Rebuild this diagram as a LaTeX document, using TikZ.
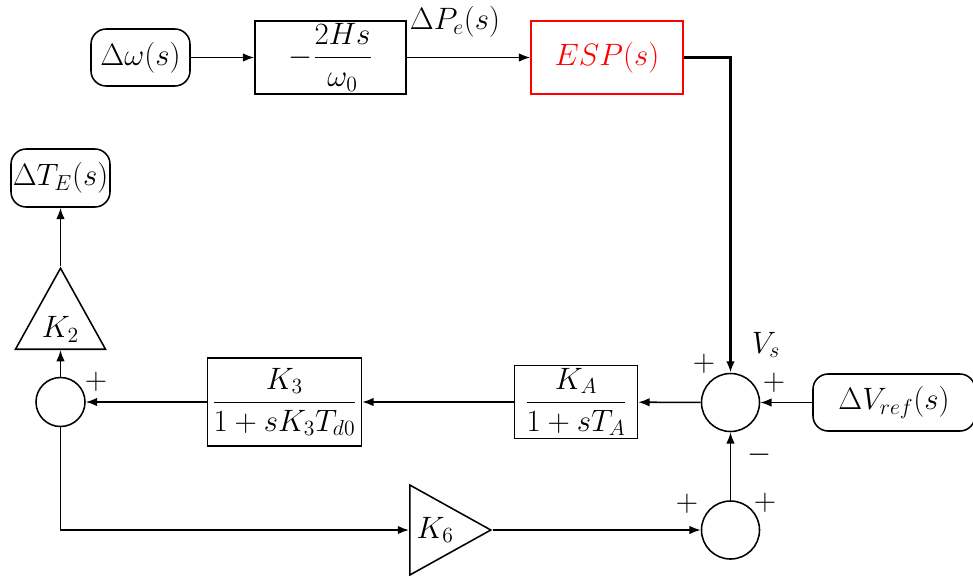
\RequirePackage{fix-cm}
\documentclass[tikz,border=0pt]{standalone}
\usepackage{amsmath}
\usepackage{tikz}
\usetikzlibrary{shapes.geometric,arrows.meta,positioning,calc}

\begin{document}
\begin{tikzpicture}[x=0.025cm, y=-0.025cm, line width=1.1pt, >={Latex[length=8pt,width=6pt]},
    every node/.style={font=\fontsize{22}{26}\selectfont, inner sep=0pt},
    block/.style={draw, rectangle},
    io/.style={draw, rectangle, rounded corners=0.38cm},
    sumnode/.style={draw, circle, minimum size=1.45cm},
    gain/.style={draw, isosceles triangle, isosceles triangle stretches}]
    \useasboundingbox (0,0) rectangle (973,575);
            \node[io, minimum width=2.475cm, minimum height=1.425cm] (dw) at (140.5,57.5) {$\Delta\omega(s)$};
            \node[block, minimum width=3.775cm, minimum height=1.825cm] (hs) at (330.5,57.5) {$-\dfrac{2Hs}{\omega_0}$};
            \node (dpe) at (455,22) {$\Delta P_e(s)$};
            \node[block, draw=red, text=red, minimum width=3.8cm, minimum height=1.825cm] (esp) at (607,57.5) {$ESP(s)$};
            \node[sumnode] (s1) at (730.5,402.5) {};
            \node (vs) at (766,345) {$V_s$};
            \node (p1) at (704,364) {$+$};
            \node (p2) at (774,383) {$+$};
            \node (m1) at (760,455) {$-$};
            \node[io, minimum width=4.05cm, minimum height=1.425cm] (vref) at (894,402.5) {$\Delta V_{ref}(s)$};
            \node[block, minimum width=3.075cm, minimum height=1.825cm] (ka) at (576,402) {$\dfrac{K_A}{1+sT_A}$};
            \node[block, minimum width=3.85cm, minimum height=2.2cm] (k3) at (284.5,402) {$\dfrac{K_3}{1+sK_3T_{d0}}$};
            \node[sumnode, minimum size=1.225cm] (s2) at (60.5,402) {};
            \node (p3) at (96,382) {$+$};
            \node[gain, shape border rotate=90, minimum width=2.25cm, minimum height=2.025cm, anchor=lower side] (k2) at (60.5,350) {$K_2$};
            \node[io, minimum width=2.475cm, minimum height=1.45cm] (te) at (60.5,178) {$\Delta T_E(s)$};
            \node[gain, minimum width=2.25cm, minimum height=2.025cm, anchor=lower side] (k6) at (409,530) {$K_6$};
            \node[sumnode] (s3) at (730.5,530) {};
            \node (p4) at (687,504) {$+$};
            \node (p5) at (765,503) {$+$};

            \draw[->] (dw) -- (hs);
            \draw[->] (hs) -- (esp);
            \draw[->, line width=1.8pt] (esp) -| (s1);
            \draw[->] (vref) -- (s1);
            \draw[->] (s1) -- (ka);
            \draw[->] (ka) -- (k3);
            \draw[->] (k3) -- (s2);
            \draw[->] (s2) -- (k2.lower side);
            \draw[->] (k2.apex) -- (te);
            \draw[->] (s2) |- (k6.lower side);
            \draw[->] (k6.apex) -- (s3);
            \draw[->] (s3) -- (s1);
        \end{tikzpicture}
\end{document}
